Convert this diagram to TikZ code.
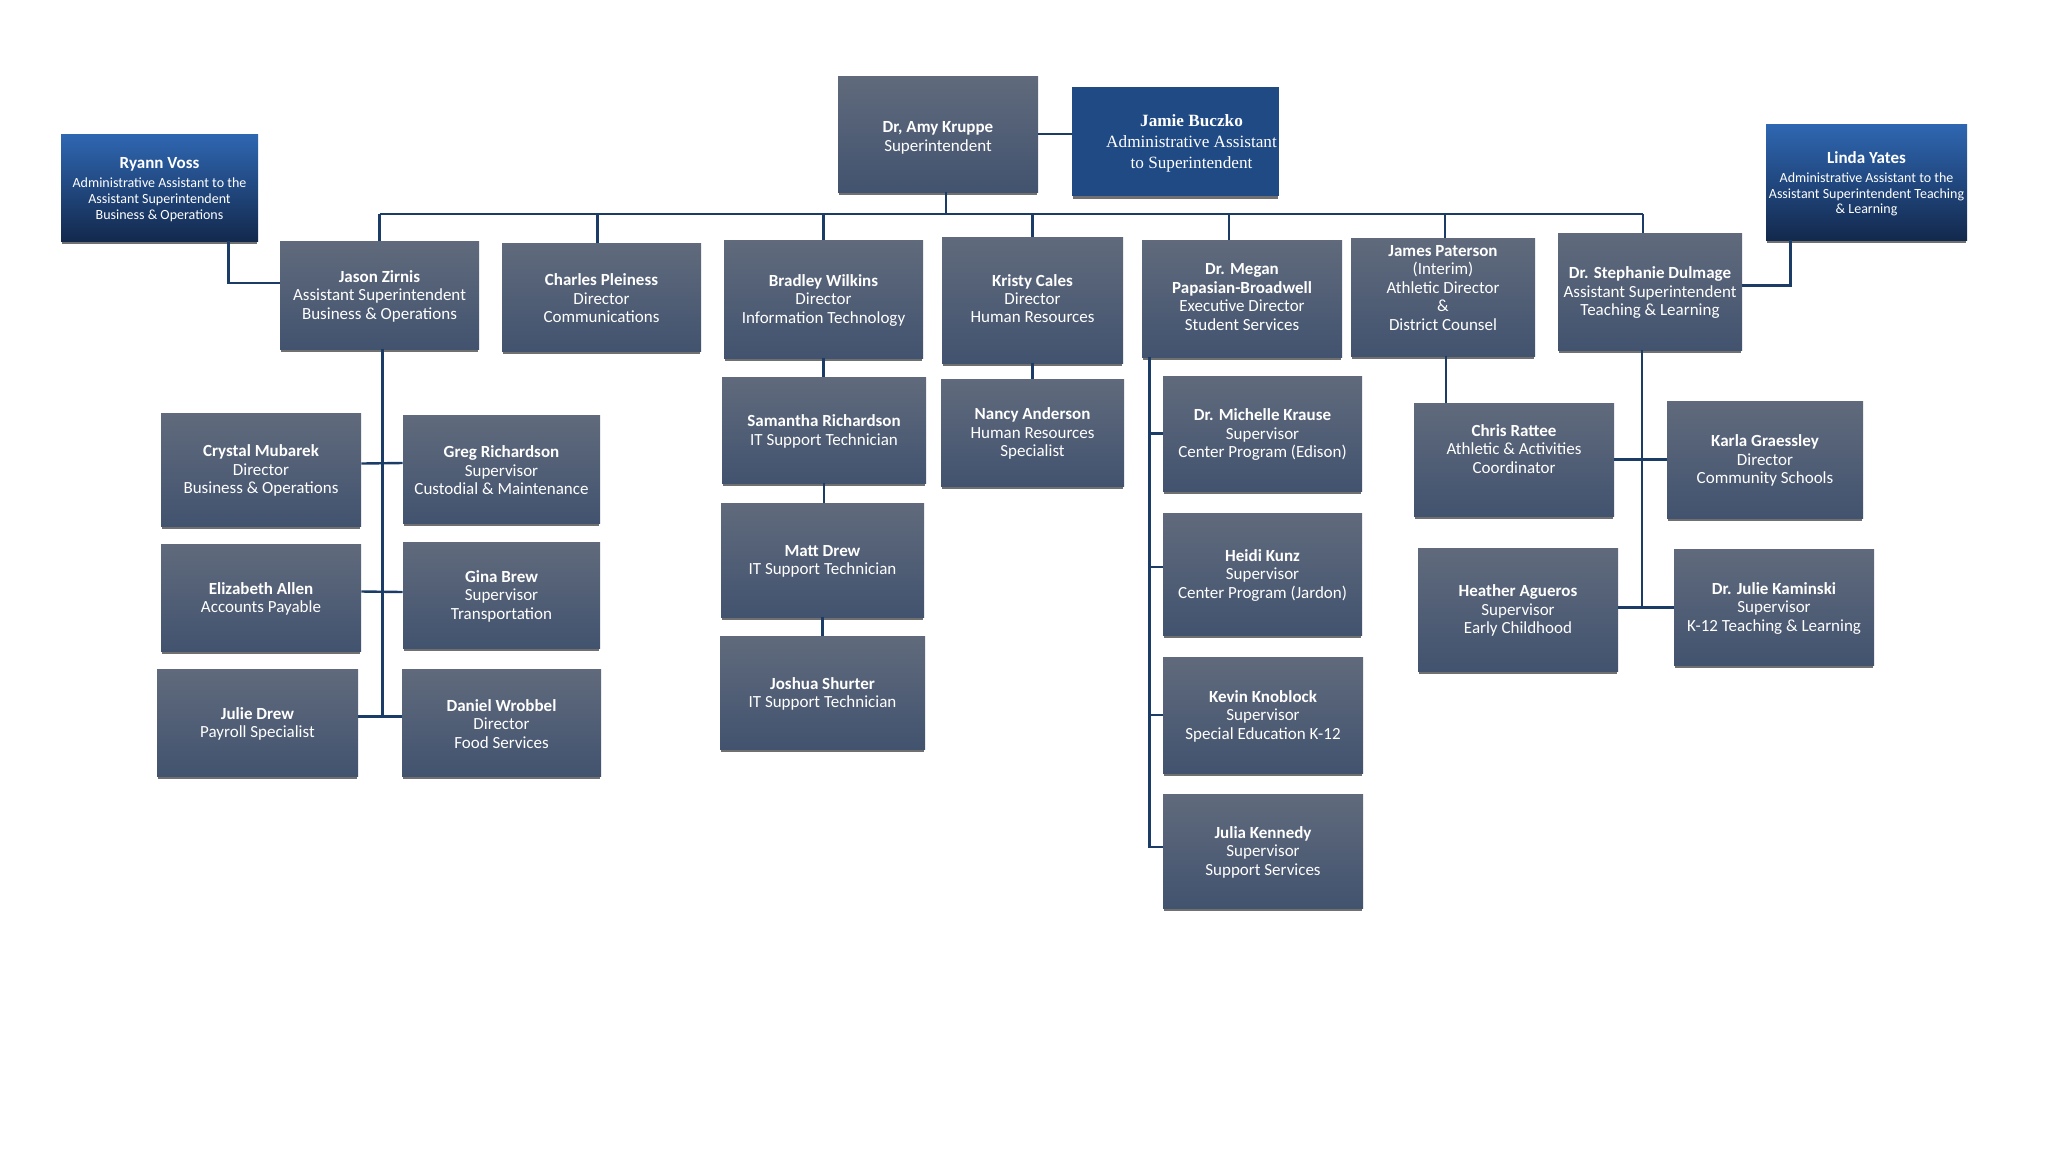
\documentclass[tikz,border=0pt]{standalone}
\usepackage{fontspec}
\setmainfont{Carlito}
\newfontfamily\timesf{Liberation Serif}
\definecolor{gtop}{RGB}{96,106,124}
\definecolor{gbot}{RGB}{66,83,111}
\definecolor{btop}{RGB}{47,103,178}
\definecolor{bbot}{RGB}{19,41,77}
\definecolor{jblue}{RGB}{31,74,132}
\definecolor{shadowgray}{RGB}{112,112,112}
\definecolor{linec}{RGB}{28,60,104}
\tikzset{
  conn/.style={draw=linec, line width=1.2pt},
  boxbase/.style={rectangle, inner sep=0pt, draw=none},
  gbox/.style={boxbase, top color=gtop, bottom color=gbot},
  bbox/.style={boxbase, top color=btop, bottom color=bbot},
  jbox/.style={boxbase, fill=jblue},
  gtext/.style={inner sep=0pt, align=center, text=white, font=\fontsize{8.5}{9.2}\selectfont},
  btext/.style={inner sep=0pt, align=center, text=white, font=\fontsize{7}{7.8}\selectfont},
  jtext/.style={inner sep=0pt, align=center, text=white, xshift=8pt, font=\timesf\fontsize{8.6}{10.5}\selectfont},
}
% [#1 text yshift] #2 name, #3 box style, #4 text style, #5 x1, #6 y1, #7 x2, #8 y2, #9 text
\newcommand\orgbox[9][-0.6pt]{%
  \pgfmathsetmacro\obw{(#7-#5)*0.5}%
  \pgfmathsetmacro\obh{(#8-#6)*0.5}%
  \fill[shadowgray] (#5+1,#8-1) rectangle (#7-1,#8+3);
  \node[#3, minimum width=\obw pt, minimum height=\obh pt] (#2) at ({(#5+#7)/2},{(#6+#8)/2}) {};
  \node[#4] (#2-t) at ([yshift=#1]#2.center) {#9};
}
\begin{document}
\begin{tikzpicture}[x=0.5pt,y=-0.5pt]
\fill[white] (0,0) rectangle (2048,1152);
\useasboundingbox (0,0) rectangle (2048,1152);

% top level
\orgbox[-1.9pt]{amy}{gbox}{gtext}{838}{76}{1038}{192}{\textbf{Dr, Amy Kruppe}\\Superintendent}
\orgbox[-0.9pt]{jamie}{jbox}{jtext}{1072}{87}{1279}{196}{\textbf{Jamie Buczko}\\Administrative Assistant\\to Superintendent}
\orgbox[-0.9pt]{ryann}{bbox}{btext}{61}{134}{258}{241}{{\fontsize{8.5}{10.5}\selectfont\textbf{Ryann Voss}}\\[2pt]Administrative Assistant to the\\Assistant Superintendent\\Business \& Operations}
\orgbox[-0.9pt]{linda}{bbox}{btext}{1766}{124}{1967}{240}{{\fontsize{8.5}{10.5}\selectfont\textbf{Linda Yates}}\\[2pt]Administrative Assistant to the\\Assistant Superintendent Teaching\\\& Learning}

% second level
\orgbox{jason}{gbox}{gtext}{280}{241}{479}{349}{\textbf{Jason Zirnis}\\Assistant Superintendent\\Business \& Operations}
\orgbox{charles}{gbox}{gtext}{502}{243}{701}{351}{\textbf{Charles Pleiness}\\Director\\Communications}
\orgbox{bradley}{gbox}{gtext}{724}{240}{923}{358}{\textbf{Bradley Wilkins}\\Director\\Information Technology}
\orgbox[0.7pt]{kristy}{gbox}{gtext}{942}{237}{1123}{363}{\textbf{Kristy Cales}\\Director\\Human Resources}
\orgbox[0.7pt]{megan}{gbox}{gtext}{1142}{240}{1342}{357}{\textbf{Dr. Megan}\\\textbf{Papasian-Broadwell}\\Executive Director\\Student Services}
\orgbox[4.6pt]{james}{gbox}{gtext}{1351}{238}{1535}{356}{\textbf{James Paterson}\\(Interim)\\Athletic Director\\\&\\District Counsel}
\orgbox{steph}{gbox}{gtext}{1558}{233}{1742}{350}{\textbf{Dr. Stephanie Dulmage}\\Assistant Superintendent\\Teaching \& Learning}

% Jason subtree
\orgbox{crystal}{gbox}{gtext}{161}{413}{361}{526}{\textbf{Crystal Mubarek}\\Director\\Business \& Operations}
\orgbox{greg}{gbox}{gtext}{403}{415}{600}{523}{\textbf{Greg Richardson}\\Supervisor\\Custodial \& Maintenance}
\orgbox{eliz}{gbox}{gtext}{161}{544}{361}{651}{\textbf{Elizabeth Allen}\\Accounts Payable}
\orgbox{gina}{gbox}{gtext}{403}{542}{600}{648}{\textbf{Gina Brew}\\Supervisor\\Transportation}
\orgbox{juliedrew}{gbox}{gtext}{157}{669}{358}{776}{\textbf{Julie Drew}\\Payroll Specialist}
\orgbox{daniel}{gbox}{gtext}{402}{669}{601}{776}{\textbf{Daniel Wrobbel}\\Director\\Food Services}

% Bradley subtree
\orgbox{samantha}{gbox}{gtext}{722}{377}{926}{483}{\textbf{Samantha Richardson}\\IT Support Technician}
\orgbox{matt}{gbox}{gtext}{721}{503}{924}{617}{\textbf{Matt Drew}\\IT Support Technician}
\orgbox{joshua}{gbox}{gtext}{720}{636}{925}{749}{\textbf{Joshua Shurter}\\IT Support Technician}

% Kristy subtree
\orgbox{nancy}{gbox}{gtext}{941}{379}{1124}{486}{\textbf{Nancy Anderson}\\Human Resources\\Specialist}

% Megan subtree
\orgbox{michelle}{gbox}{gtext}{1163}{376}{1362}{491}{\textbf{Dr. Michelle Krause}\\Supervisor\\Center Program (Edison)}
\orgbox{heidi}{gbox}{gtext}{1163}{513}{1362}{635}{\textbf{Heidi Kunz}\\Supervisor\\Center Program (Jardon)}
\orgbox{kevin}{gbox}{gtext}{1163}{657}{1363}{773}{\textbf{Kevin Knoblock}\\Supervisor\\Special Education K-12}
\orgbox{julia}{gbox}{gtext}{1163}{794}{1363}{908}{\textbf{Julia Kennedy}\\Supervisor\\Support Services}

% James / Stephanie subtree
\orgbox[5.3pt]{chris}{gbox}{gtext}{1414}{403}{1614}{516}{\textbf{Chris Rattee}\\Athletic \& Activities\\Coordinator}
\orgbox{karla}{gbox}{gtext}{1667}{401}{1863}{518}{\textbf{Karla Graessley}\\Director\\Community Schools}
\orgbox{heather}{gbox}{gtext}{1418}{548}{1618}{671}{\textbf{Heather Agueros}\\Supervisor\\Early Childhood}
\orgbox{kaminski}{gbox}{gtext}{1674}{549}{1874}{665}{\textbf{Dr. Julie Kaminski}\\Supervisor\\K-12 Teaching \& Learning}

% ---------- connectors ----------
\coordinate (bus) at (946,214);
\draw[conn] (jason.north |- bus) -- ([xshift=-3.5pt]steph.north |- bus);
\draw[conn] ([xshift=4pt]amy.south) -- ([xshift=4pt]amy.south |- bus);
\draw[conn] (jason.north) -- (jason.north |- bus);
\draw[conn] ([xshift=-2pt]charles.north) -- ([xshift=-2pt]charles.north |- bus);
\draw[conn] (bradley.north) -- (bradley.north |- bus);
\draw[conn] (kristy.north) -- (kristy.north |- bus);
\draw[conn] ([xshift=-6.5pt]megan.north) -- ([xshift=-6.5pt]megan.north |- bus);
\draw[conn] ([xshift=1pt]james.north) -- ([xshift=1pt]james.north |- bus);
\draw[conn] ([xshift=-3.5pt]steph.north) -- ([xshift=-3.5pt]steph.north |- bus);

\draw[conn] (amy.east) -- (jamie.west |- amy.east);
\draw[conn] ([xshift=-15pt]ryann.south east) |- ([yshift=6pt]jason.west);
\draw[conn] ([xshift=12.5pt]linda.south west) |- ([yshift=3pt]steph.east);

% Jason subtree
\coordinate (jx) at ([xshift=1.5pt]jason.south);
\coordinate (jl) at ([yshift=3pt]juliedrew.east);
\draw[conn] (jx) -- (jx |- jl);
\draw[conn] ([yshift=3pt]crystal.east) -- ([yshift=3pt]greg.west);
\draw[conn] ([yshift=3pt]eliz.east) -- ([yshift=1.5pt]gina.west);
\draw[conn] (jl) -- ([yshift=3pt]daniel.west);

% Bradley subtree
\draw[conn] (bradley.south) -- (bradley.south |- samantha.north);
\draw[conn] (samantha.south) -- (samantha.south |- matt.north);
\draw[conn] (matt.south) -- (matt.south |- joshua.north);

% Kristy subtree
\draw[conn] (kristy.south) -- (nancy.north);

% Megan subtree
\coordinate (mx) at ([xshift=4pt]megan.south west);
\draw[conn] (mx) |- ([yshift=2pt]julia.west);
\draw[conn] (michelle.west) -- (michelle.west -| mx);
\coordinate (hl) at ([yshift=3.5pt]heidi.west);
\draw[conn] (hl) -- (hl -| mx);
\draw[conn] (kevin.west) -- (kevin.west -| mx);

% James -> Chris
\coordinate (jm) at ([xshift=1.5pt]james.south);
\draw[conn] (jm) -- (jm |- chris.north);

% Stephanie subtree
\coordinate (sx) at ([xshift=-4pt]steph.south);
\draw[conn] (sx) -- (sx |- kaminski.west);
\draw[conn] (chris.east) -- (chris.east -| karla.west);
\coordinate (hel) at ([yshift=1pt]heather.east);
\draw[conn] (hel) -- (hel -| kaminski.west);
\end{tikzpicture}
\end{document}
